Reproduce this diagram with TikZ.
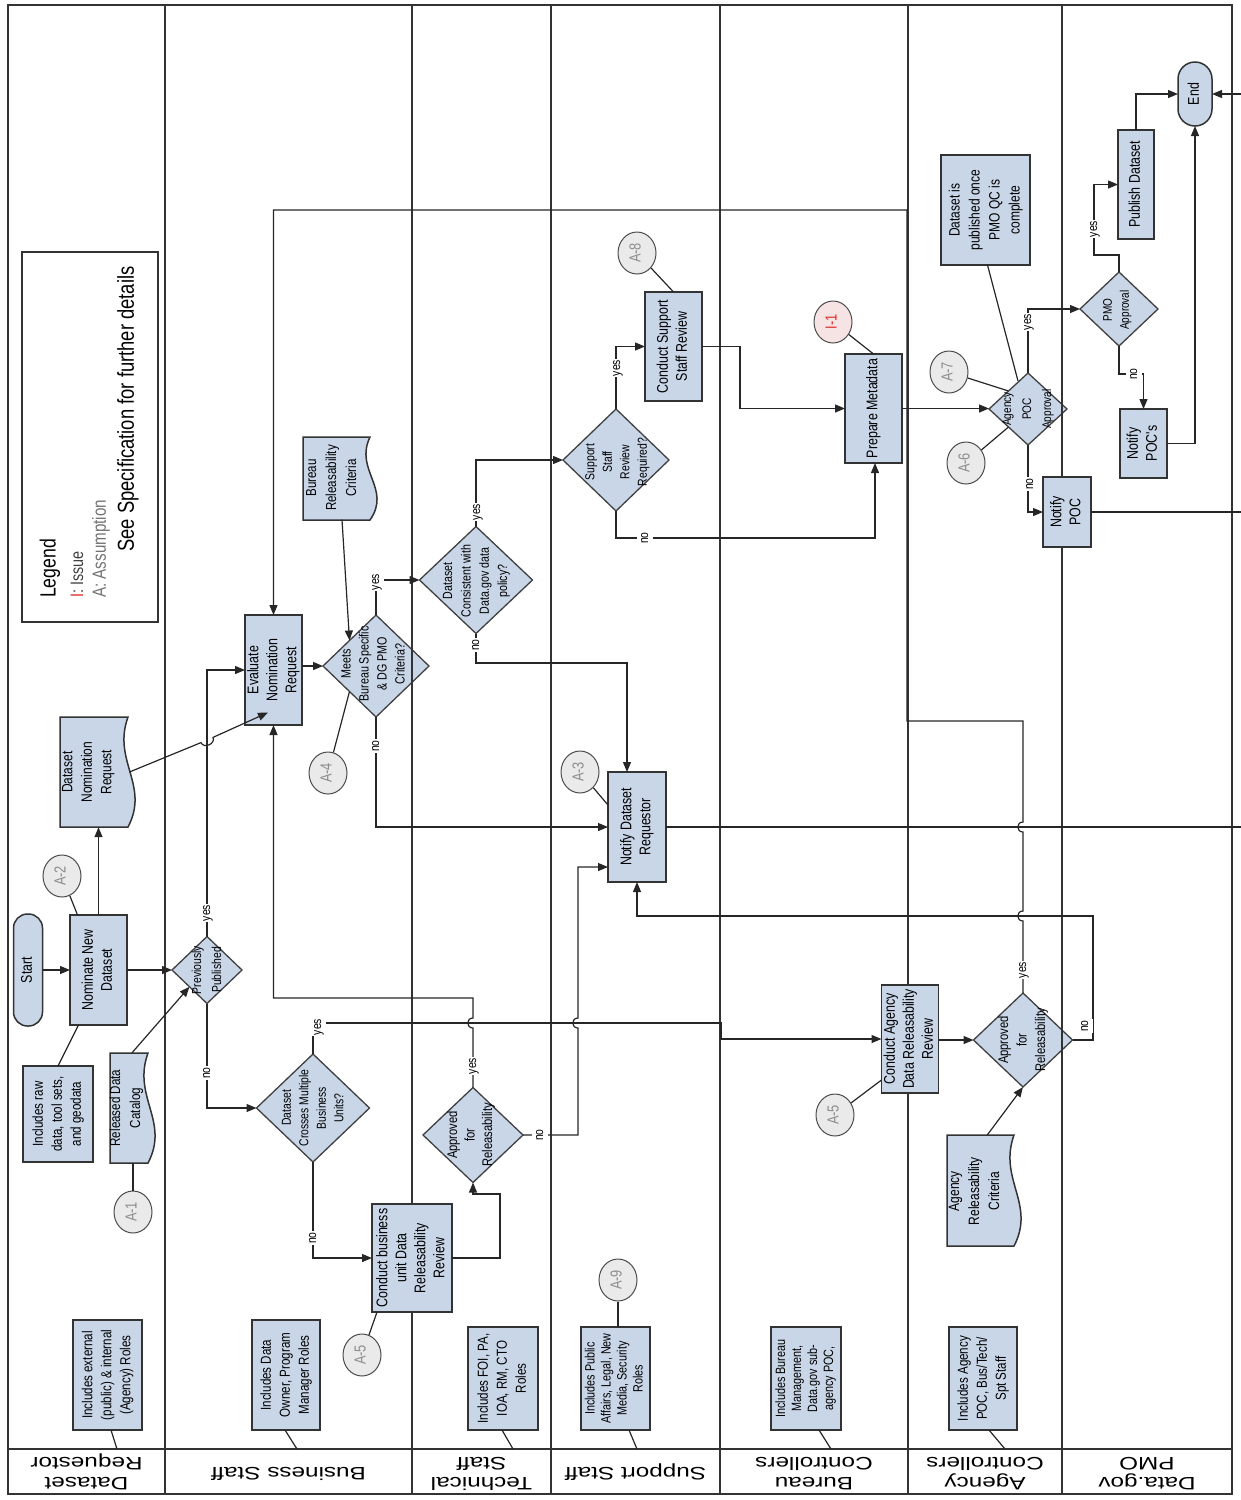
\documentclass[tikz,border=0pt]{standalone}
\usepackage{graphicx}
\usepackage{fontspec}
\setmainfont{Liberation Sans}
\newfontfamily\cnd[FakeStretch=0.8]{Liberation Sans}
\newfontfamily\wde[FakeStretch=1.35]{Liberation Sans}
\usetikzlibrary{shapes.geometric,arrows.meta}
\pgfdeclarelayer{dia}
\pgfdeclarelayer{lanes}
\pgfsetlayers{dia,lanes,main}
\definecolor{boxblue}{RGB}{200,214,232}
\definecolor{circgray}{RGB}{234,234,234}
\definecolor{annotxt}{RGB}{140,140,140}
\definecolor{issuered}{RGB}{225,40,40}
\definecolor{issuefill}{RGB}{246,228,228}
\newcommand\rt[1]{\rotatebox{90}{\begin{tabular}{@{}c@{}}#1\end{tabular}}}
\newcommand\rtb[1]{\rotatebox{180}{\begin{tabular}{@{}c@{}}#1\end{tabular}}}
\newcommand\fsz[2]{\fontsize{#1}{#2}\selectfont}
\newcommand\docpath[4]{\draw[docst] (#1,#2) -- (#3,#2) .. controls ({#3-16},{#2+0.4*(#4-#2)}) and ({#3+22},{#2+0.62*(#4-#2)}) .. (#3,#4) -- (#1,#4) -- cycle;}
\begin{document}
\begin{tikzpicture}[x=1pt,y=-1pt,
 proc/.style={rectangle,draw=black!80,line width=1.5pt,fill=boxblue,inner sep=0pt,outer sep=0pt,font=\cnd\fsz{15.5}{19}},
 term/.style={proc,rounded corners=#1},
 note/.style={proc,font=\cnd\fsz{14.5}{19}},
 dec/.style={diamond,draw=black!75,line width=1.3pt,fill=boxblue,inner sep=0pt,outer sep=0pt},
 dlab/.style={inner sep=0pt},
 anno/.style={ellipse,draw=black!70,line width=1pt,fill=circgray,text=annotxt,inner sep=0pt,minimum width=38pt,minimum height=42pt,font=\cnd\fsz{16}{18}},
 conn/.style={line width=1.2pt,draw=black!85},
 arr/.style={conn,-{Triangle[length=10pt,width=8pt]}},
 lab/.style={fill=white,inner sep=0.8pt,font=\cnd\fsz{13}{15}},
 lanest/.style={line width=2.6pt,draw=black!80},
 docst/.style={draw=black!80,line width=1.5pt,fill=boxblue},
 dtxt/.style={inner sep=0pt},
 lanelab/.style={inner sep=0pt,font=\wde\fsz{18}{20}},
]
\useasboundingbox (0,0) rectangle (1241,1500);

% ---------- lanes ----------
\begin{pgfonlayer}{lanes}
\draw[lanest] (8,5) rectangle (1232,1494);
\foreach \xx in {165,412,551,720,908,1062} {\draw[lanest] (\xx,5) -- (\xx,1494);}
\draw[lanest] (8,1449) -- (1232,1449);
\end{pgfonlayer}

% ---------- decisions ----------
\begin{pgfonlayer}{dia}
\node[dec,minimum width=70pt,minimum height=67pt] (pp) at (207,970) {};
\node[dec,minimum width=113pt,minimum height=108pt] (crosses) at (313,1108) {};
\node[dec,minimum width=106pt,minimum height=102pt] (meets) at (376,666) {};
\node[dec,minimum width=113pt,minimum height=107pt] (consist) at (476,580) {};
\node[dec,minimum width=100pt,minimum height=95pt] (apprT) at (473,1135) {};
\node[dec,minimum width=106pt,minimum height=102pt] (ssr) at (616,460) {};
\node[dec,minimum width=99pt,minimum height=94pt] (apprA) at (1023,1040) {};
\node[dec,minimum width=78pt,minimum height=72pt] (poc) at (1028,409) {};
\node[dec,minimum width=78pt,minimum height=74pt] (pmo) at (1119,309) {};
\end{pgfonlayer}

\node[dlab,font=\cnd\fsz{13}{20}] (tpp) at (207,970) {\rt{Previously\\Published}};
\node[dlab,font=\cnd\fsz{13}{17.5}] (tcr) at (313.5,1108) {\rt{Dataset\\Crosses Multiple\\Business\\Units?}};
\node[dlab,font=\cnd\fsz{13.4}{18}] (tme) at (374,664) {\rt{Meets\\Bureau Specific\\\& DG PMO\\Criteria?}};
\node[dlab,font=\cnd\fsz{13.3}{18.3}] (tco) at (476,581) {\rt{Dataset\\Consistent with\\Data.gov data\\policy?}};
\node[dlab,font=\cnd\fsz{14}{17.5}] (tat) at (471,1135) {\rt{Approved\\for\\Releasability}};
\node[dlab,font=\cnd\fsz{13}{17.5}] (tss) at (617,462) {\rt{Support\\Staff\\Review\\Required?}};
\node[dlab,font=\cnd\fsz{14}{18.5}] (taa) at (1023,1040) {\rt{Approved\\for\\Releasability}};
\node[dlab,font=\cnd\fsz{12.5}{20}] (tpo) at (1027,409) {\rt{Agency\\POC\\Approval}};
\node[dlab,font=\cnd\fsz{12.5}{17}] (tpm) at (1117,310) {\rt{PMO\\Approval}};

% ---------- processes ----------
\node[term=14pt,minimum width=29pt,minimum height=112pt] (start) at (28,970) {\rt{Start}};
\node[proc,minimum width=57pt,minimum height=110pt] (nom) at (98.5,970) {\rt{Nominate New\\Dataset}};
\node[note,minimum width=70pt,minimum height=96pt] (raw) at (58,1114) {\rt{Includes raw\\data, tool sets,\\and geodata}};
\node[proc,minimum width=57pt,minimum height=110pt] (evalnr) at (273.5,670) {\rt{Evaluate\\Nomination\\Request}};
\node[proc,minimum width=80pt,minimum height=108pt] (cbu) at (412,1258) {\rt{Conduct business\\unit Data\\Releasability\\Review}};
\node[proc,minimum width=58pt,minimum height=110pt] (notify) at (637,827) {\rt{Notify Dataset\\Requestor}};
\node[proc,minimum width=57pt,minimum height=109pt] (css) at (673.5,346.5) {\rt{Conduct Support\\Staff Review}};
\node[proc,minimum width=57pt,minimum height=109pt] (prep) at (873.5,408.5) {\rt{Prepare Metadata}};
\node[proc,minimum width=57pt,minimum height=108pt] (cadr) at (910,1039) {\rt{Conduct Agency\\Data Releasability\\Review}};
\node[proc,minimum width=48pt,minimum height=70pt] (notifypoc) at (1067,512) {\rt{Notify\\POC}};
\node[proc,minimum width=36pt,minimum height=109pt] (pub) at (1136,184.5) {\rt{Publish Dataset}};
\node[term=17pt,minimum width=34pt,minimum height=64pt] (endn) at (1195,94) {\rt{End}};
\node[proc,minimum width=47pt,minimum height=69pt] (npocs) at (1143.5,443.5) {\rt{Notify\\POC's}};
\node[note,font=\cnd\fsz{15}{20},minimum width=89pt,minimum height=110pt] (pubnote) at (985.5,210) {\rt{Dataset is\\published once\\PMO QC is\\complete}};

% role boxes
\node[note,minimum width=69pt,minimum height=110pt] (roles1) at (107.5,1375) {\rt{Includes external\\(public) \& internal\\(Agency) Roles}};
\node[note,minimum width=68pt,minimum height=110pt] (roles2) at (286,1375) {\rt{Includes Data\\Owner, Program\\Manager Roles}};
\node[note,minimum width=70pt,minimum height=103pt] (roles3) at (503,1378.5) {\rt{Includes FOI, PA,\\IOA, RM, CTO\\Roles}};
\node[note,font=\cnd\fsz{13.5}{16},minimum width=69pt,minimum height=103pt] (roles4) at (615.5,1378.5) {\rt{Includes Public\\Affairs, Legal, New\\Media, Security\\Roles}};
\node[note,font=\cnd\fsz{13.5}{16},minimum width=70pt,minimum height=103pt] (roles5) at (806,1378.5) {\rt{Includes Bureau\\Management,\\Data.gov sub-\\agency POC,}};
\node[note,minimum width=68pt,minimum height=103pt] (roles6) at (983,1378.5) {\rt{Includes Agency\\POC, Bus/Tech/\\Spt Staff}};

% ---------- documents ----------
\docpath{110}{1053}{148}{1163}
\node[dtxt,font=\cnd\fsz{14.5}{20},minimum width=38pt,minimum height=110pt] (cat) at (126,1108) {\rt{Released Data\\Catalog}};
\docpath{60}{717}{128}{827}
\node[dtxt,font=\cnd\fsz{15}{19.5},minimum width=56pt,minimum height=110pt] (dnr) at (88,772) {\rt{Dataset\\Nomination\\Request}};
\docpath{303}{437}{370}{520}
\node[dtxt,font=\cnd\fsz{14.5}{20},minimum height=83pt] (brc) at (332,478) {\rt{Bureau\\Releasability\\Criteria}};
\docpath{947}{1135}{1014}{1246}
\node[dtxt,font=\cnd\fsz{15}{20},minimum height=111pt] (arc) at (975,1191) {\rt{Agency\\Releasability\\Criteria}};

% ---------- annotations ----------
\node[anno] (a1) at (133,1212) {\rt{A-1}};
\node[anno] (a2) at (62,876) {\rt{A-2}};
\node[anno] (a3) at (580,772) {\rt{A-3}};
\node[anno] (a4) at (328,773) {\rt{A-4}};
\node[anno] (a5a) at (362,1355) {\rt{A-5}};
\node[anno] (a5b) at (835,1115) {\rt{A-5}};
\node[anno] (a6) at (966,463) {\rt{A-6}};
\node[anno] (a7) at (949,372) {\rt{A-7}};
\node[anno] (a8) at (637,253) {\rt{A-8}};
\node[anno] (a9) at (618,1280) {\rt{A-9}};
\node[anno,fill=issuefill,text=issuered] (i1) at (833,322) {\rt{I-1}};

% ---------- legend ----------
\draw[line width=1.8pt,draw=black!80] (22,252) rectangle (158,622);
\node[anchor=south,inner sep=0pt,font=\cnd\fsz{22}{24}] (lg1) at (50,598) {\rotatebox{90}{Legend}};
\node[anchor=south,inner sep=0pt,font=\cnd\fsz{18}{20},text=black!75] (lg2) at (77,598) {\rotatebox{90}{\textcolor{issuered}{I}: Issue}};
\node[anchor=south,inner sep=0pt,font=\cnd\fsz{19}{21},text=black!55] (lg3) at (101,598) {\rotatebox{90}{A: Assumption}};
\node[anchor=south,inner sep=0pt,font=\cnd\fsz{23}{25}] (lg4) at (128,552) {\rotatebox{90}{See Specification for further details}};

% ---------- lane labels ----------
\node[lanelab] (lane1) at (86.5,1471) {\rtb{Dataset\\Requestor}};
\node[lanelab] (lane2) at (288.5,1471) {\rtb{Business Staff}};
\node[lanelab] (lane3) at (481.5,1471) {\rtb{Technical\\Staff}};
\node[lanelab] (lane4) at (635.5,1471) {\rtb{Support Staff}};
\node[lanelab] (lane5) at (814,1471) {\rtb{Bureau\\Controllers}};
\node[lanelab] (lane6) at (985,1471) {\rtb{Agency\\Controllers}};
\node[lanelab] (lane7) at (1147,1471) {\rtb{Data.gov\\PMO}};

% ---------- free ends ----------
\coordinate (h1) at (117,1449);
\coordinate (h2) at (297,1449);
\coordinate (h3) at (513,1449);
\coordinate (h4) at (637,1449);
\coordinate (h5) at (831,1449);
\coordinate (h6) at (1005,1449);
\coordinate (rE1) at (1241,827);
\coordinate (rE2) at (1241,512);
\coordinate (rE3) at (1241,94);

% ---------- plain lines ----------
\draw[conn] ([xshift=3.5pt]roles1.south) -- (h1);
\draw[conn] ([xshift=-1pt]roles2.south) -- (h2);
\draw[conn] ([xshift=-1pt]roles3.south) -- (h3);
\draw[conn] ([xshift=13.5pt]roles4.south) -- (h4);
\draw[conn] ([xshift=13pt]roles5.south) -- (h5);
\draw[conn] ([xshift=6pt]roles6.south) -- (h6);
\draw[conn] (raw.north) -- ([xshift=-20pt]nom.south);
\draw[conn] (a1) -- (a1 |- cat.south);
\draw[conn] (a2) -- ([xshift=-21pt]nom.north);
\draw[conn] (a4) -- (meets.south west);
\draw[conn] (a5a) -- ([xshift=-35pt]cbu.south);
\draw[conn] (a3) -- ([yshift=22pt]notify.west);
\draw[conn] (a8) -- (css.north);
\draw[conn] (a9) -- (a9 |- roles4.north);
\draw[conn] (i1) -- (prep.north);
\draw[conn] (a5b) -- ([yshift=13pt]cadr.south west);
\draw[conn] (a7) -- (poc.north west);
\draw[conn] (a6) -- (poc.south west);
\draw[conn] ([xshift=2pt]pubnote.south) -- ([xshift=-10pt,yshift=-8pt]poc.north);
\draw[conn] (notify.east) -- (rE1);
\draw[conn] (notifypoc.east) -- (rE2);

% ---------- arrows ----------
\draw[arr] (start.east) -- (start.east -| nom.west);
\draw[arr] (nom.east) -- (pp.west);
\draw[arr] (nom.north) -- (nom.north |- dnr.south);
\draw[arr] ([xshift=6pt]cat.north) -- (pp.south west);
\draw[arr] ([xshift=12pt]dnr.east) -- (201,742.6) .. controls (203.8,749) and (215.8,743.8) .. (213,737.4) -- ([xshift=-5.5pt,yshift=-42.5pt]evalnr.center);
\draw[arr] (pp.north) -- (pp.north |- evalnr.west) -- (evalnr.west);
\draw[arr] (pp.south) -- (pp.south |- crosses.west) -- (crosses.west);
\draw[arr] (crosses.north) -- (313,1023) -- (721,1023) -- (721,0 |- cadr.west) -- (cadr.west);
\draw[arr] (crosses.south) -- (crosses.south |- cbu.west) -- (cbu.west);
\draw[arr] (cbu.east) -- (500,1258) -- (500,1194) -- (473,1194) -- (apprT.south);
\draw[arr] (apprT.north) -- (473,1028) .. controls (466,1028) and (466,1018) .. (473,1018) -- (473,998) -- (evalnr.south |- 0,998) -- (evalnr.south);
\draw[arr] (apprT.east) -- (578,1135) -- (578,1028) .. controls (571,1028) and (571,1018) .. (578,1018) -- (578,867) -- (notify.west |- 0,867);
\draw[arr] (evalnr.east |- meets.west) -- (meets.west);
\draw[arr] ([xshift=10pt]brc.south) -- (meets.north west);
\draw[arr] (meets.north) -- (376,580) -- (consist.west);
\draw[arr] (meets.south) -- (meets.south |- notify.west) -- (notify.west);
\draw[arr] (consist.north) -- (consist.north |- ssr.west) -- (ssr.west);
\draw[arr] (consist.south) -- (476,663) -- (627,663) -- (627,0 |- notify.north);
\draw[arr] (ssr.north) -- (ssr.north |- css.west) -- (css.west);
\draw[arr] (ssr.south) -- (616,538) -- (875,538) -- (875,0 |- prep.south);
\draw[arr] (css.east) -- (css.east -| 740,0) -- (740,0 |- prep.west) -- (prep.west);
\draw[arr] (prep.east) -- (prep.east -| poc.west);
\draw[arr] (poc.north) -- (poc.north |- pmo.west) -- (pmo.west);
\draw[arr] (poc.south) -- (poc.south |- notifypoc.west) -- (notifypoc.west);
\draw[arr] (pmo.north) -- (1119,255) -- (1094,255) -- (1094,0 |- pub.west) -- (pub.west);
\draw[arr] (pmo.south) -- (1119,374) -- (npocs.north |- 0,374) -- (npocs.north);
\draw[arr] (pub.north) -- (pub.north |- endn.west) -- (endn.west);
\draw[arr] (npocs.east) -- (endn.south |- npocs.east) -- (endn.south);
\draw[arr] (rE3) -- (endn.east);
\draw[arr] (cadr.east |- apprA.west) -- (apprA.west);
\draw[arr] ([xshift=12pt]arc.north) -- (apprA.south);
\draw[arr] (apprA.north) -- (1023,921) .. controls (1016,921) and (1016,911) .. (1023,911) -- (1023,832) .. controls (1016,832) and (1016,822) .. (1023,822) -- (1023,721) -- (907,721) -- (907,210) -- (evalnr.north |- 0,210) -- (evalnr.north);
\draw[arr] (apprA.east) -- (1093,1040) -- (1093,916) -- (notify.south |- 0,916) -- (notify.south);

% ---------- yes / no labels ----------
\node[lab] (ly1) at (207,913) {\rt{yes}};
\node[lab] (ln1) at (207,1073) {\rt{no}};
\node[lab] (ly2) at (318,1027) {\rt{yes}};
\node[lab] (ln2) at (313,1238) {\rt{no}};
\node[lab] (ly3) at (473,1066) {\rt{yes}};
\node[lab] (ln3) at (540,1135) {\rt{no}};
\node[lab] (ly4) at (376,582) {\rt{yes}};
\node[lab] (ln4) at (376,746) {\rt{no}};
\node[lab] (ly5) at (477,512) {\rt{yes}};
\node[lab] (ln5) at (476,645) {\rt{no}};
\node[lab] (ly6) at (617,368) {\rt{yes}};
\node[lab] (ln6) at (645,538) {\rt{no}};
\node[lab] (ly7) at (1023,970) {\rt{yes}};
\node[lab] (ln7) at (1085,1026) {\rt{no}};
\node[lab] (ly8) at (1028,322) {\rt{yes}};
\node[lab] (ln8) at (1030,484) {\rt{no}};
\node[lab] (ly9) at (1094,229) {\rt{yes}};
\node[lab] (ln9) at (1134,374) {\rt{no}};
\end{tikzpicture}
\end{document}
